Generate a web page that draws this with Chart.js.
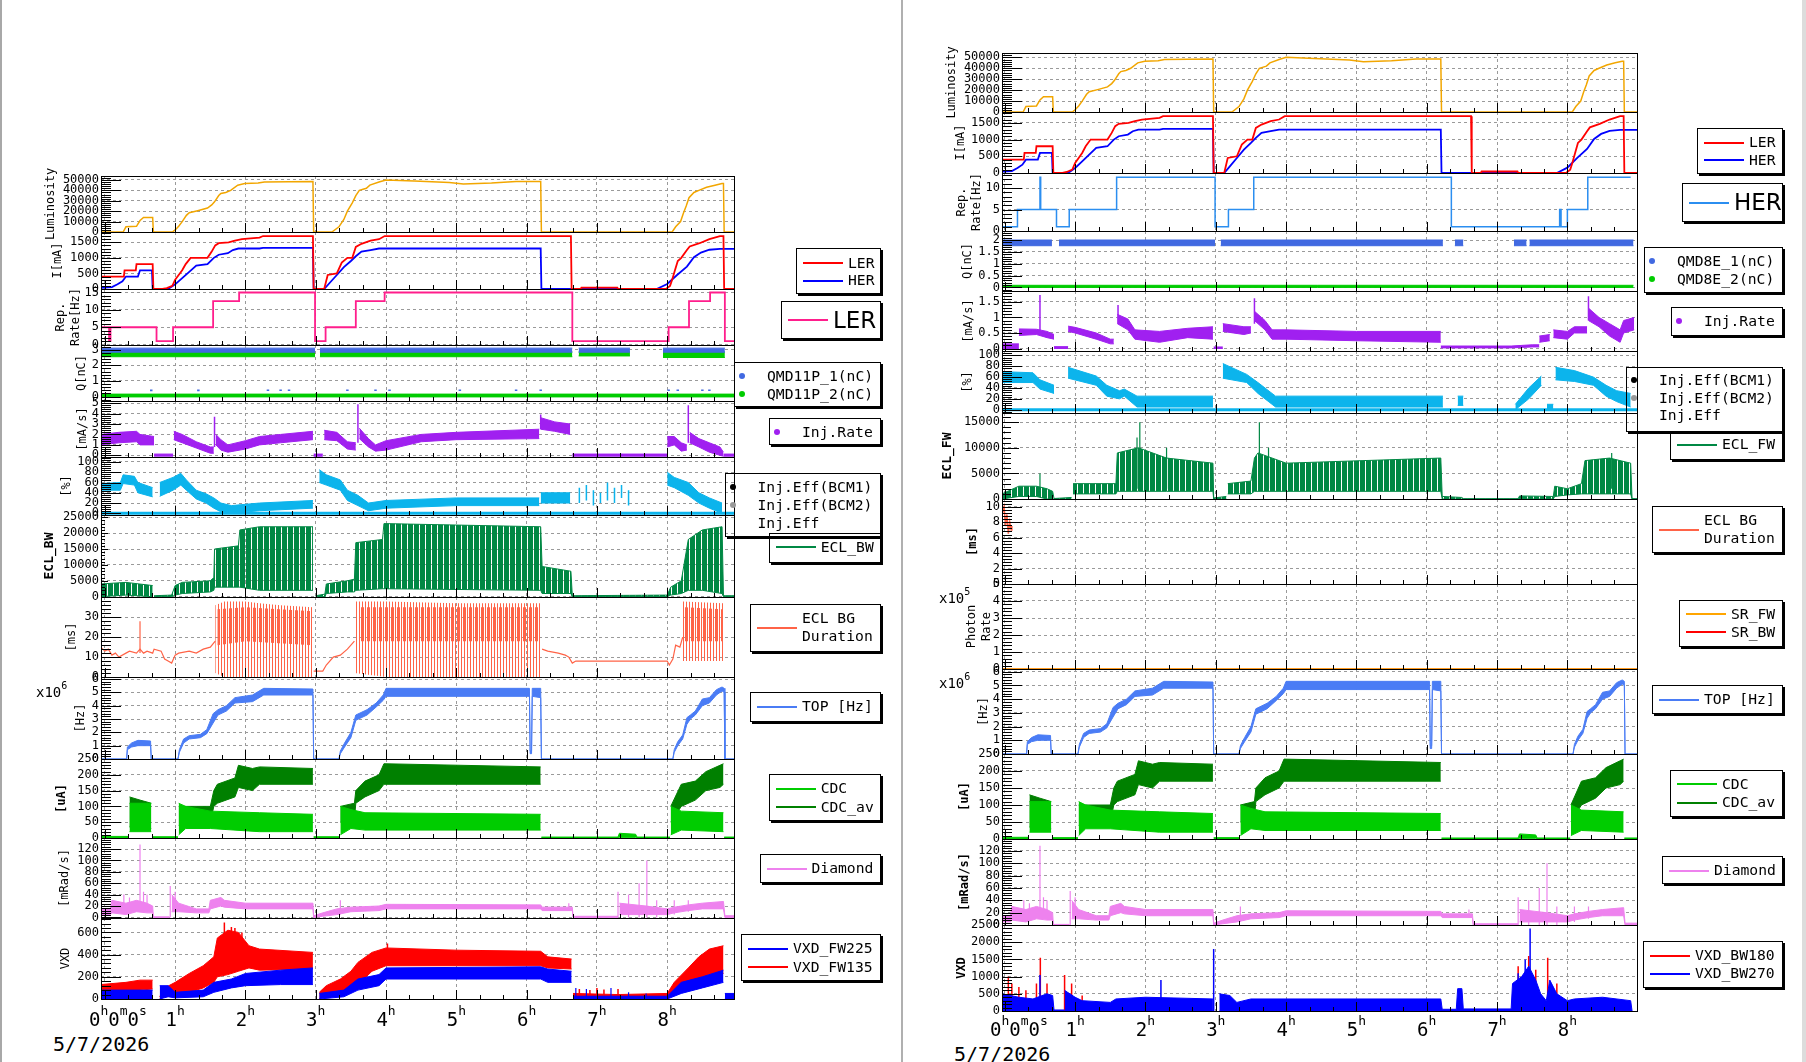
<!DOCTYPE html>
<html>
<head>
<meta charset="utf-8">
<title>Beam monitor</title>
<script src="https://cdn.jsdelivr.net/npm/chart.js"></script>
<style>
  body { margin: 0; width: 1806px; height: 1062px; position: relative; overflow: hidden; background: #fff;
         font-family: 'DejaVu Sans Mono', monospace; color: #000; }
  canvas { position: absolute; }
  .edge { position: absolute; top: 0; height: 1062px; }
  .leg { position: absolute; border: 1px solid #000; box-shadow: 2px 2px 0 #000; box-sizing: border-box; font-size: 14.7px; }
  .leg .ls { position: absolute; height: 2px; width: 40px; }
  .leg .dot { position: absolute; width: 6px; height: 6px; border-radius: 50%; }
  .leg .tx { position: absolute; line-height: 1; white-space: pre; transform: translateY(-50%); }
  .leg .big { font-family: 'DejaVu Sans', sans-serif; font-size: 23px; }
  .hl { position: absolute; font-size: 19px; line-height: 1; white-space: nowrap; }
  .hl sup { font-size: 13px; position: relative; top: -11px; vertical-align: baseline; }
  .date { position: absolute; font-size: 20px; line-height: 1; }
  .mult { position: absolute; font-size: 14px; line-height: 1; }
  .mult sup { font-size: 10px; position: relative; top: -8px; vertical-align: baseline; }
</style>
</head>
<body>
<div class="edge" style="left:0;width:2px;background:#a8a8a8"></div>
<div class="edge" style="left:901px;width:2px;background:#b0b0b0"></div>
<div class="edge" style="left:1802px;width:4px;background:#dcdcdc"></div>
<script>
// ---- time axis (hours) ----
const hourTicks = [0, 1, 2, 3, 4, 5, 6, 7, 8];
const hourLabels = ['1', '2', '3', '4', '5', '6', '7', '8'];

// ---- shared machine data: [hour, value] ----
const lumiPts = [[-0.06,0],[0.26,0],[0.3,5000],[0.45,5500],[0.5,11000],[0.55,14000],[0.68,14000],[0.69,0],[0.96,0],[1.0,2000],[1.05,5500],[1.1,10000],[1.16,16000],[1.2,18500],[1.32,20500],[1.46,23000],[1.52,26000],[1.56,29000],[1.62,35000],[1.65,37000],[1.72,38000],[1.79,40000],[1.89,45000],[1.99,46500],[2.18,47000],[2.27,48000],[2.96,48500],[2.97,0],[3.23,0],[3.33,5000],[3.4,12000],[3.45,20000],[3.52,28000],[3.57,35000],[3.62,40000],[3.72,42000],[3.77,45000],[3.9,48000],[4.0,50000],[4.4,49000],[4.9,47500],[5.1,46000],[5.5,47000],[5.85,48500],[6.2,48500],[6.21,0],[8.07,0],[8.12,5000],[8.19,10000],[8.23,18000],[8.27,25000],[8.31,33000],[8.38,38000],[8.45,40000],[8.56,43000],[8.68,45000],[8.78,46500],[8.8,46500],[8.81,0],[9.0,0]];
const lerPts = [[-0.06,400],[0.27,400],[0.28,600],[0.44,600],[0.45,800],[0.68,800],[0.69,0],[0.82,0],[0.88,30],[0.96,100],[1.0,300],[1.05,450],[1.1,600],[1.15,800],[1.22,1000],[1.46,1000],[1.52,1200],[1.57,1400],[1.62,1470],[1.76,1500],[1.85,1550],[1.95,1600],[2.2,1650],[2.25,1700],[2.96,1700],[2.97,0],[3.12,0],[3.17,450],[3.3,500],[3.37,850],[3.45,1000],[3.52,1000],[3.57,1350],[3.65,1450],[3.78,1550],[3.9,1600],[3.98,1700],[6.63,1700],[6.64,0],[6.77,0],[6.78,45],[7.29,45],[7.3,0],[7.98,0],[8.04,100],[8.07,300],[8.11,600],[8.15,900],[8.2,1000],[8.28,1250],[8.32,1365],[8.46,1470],[8.6,1600],[8.75,1700],[8.8,1700],[8.81,0],[9.0,0]];
const herPts = [[-0.06,40],[0.1,60],[0.18,150],[0.25,250],[0.3,400],[0.47,400],[0.5,600],[0.67,600],[0.68,0],[0.9,0],[1.0,150],[1.1,350],[1.2,550],[1.3,750],[1.46,800],[1.55,1000],[1.62,1100],[1.75,1150],[1.82,1250],[1.9,1300],[2.2,1300],[2.25,1320],[2.96,1320],[2.97,0],[3.12,0],[3.2,200],[3.3,450],[3.4,700],[3.5,900],[3.57,1050],[3.65,1200],[3.78,1250],[3.9,1300],[6.2,1300],[6.21,0],[7.85,0],[8.0,160],[8.14,450],[8.28,720],[8.38,1020],[8.48,1170],[8.6,1260],[8.75,1290],[9.0,1290]];

// rep. rate steps: [hour, new value]
const repLer = [[-0.06,5],[0.06,1],[0.08,5],[0.735,1],[0.97,5],[1.54,12.5],[1.91,15],[2.99,1],[3.14,5],[3.57,12.5],[3.98,15],[6.65,1],[8.02,5],[8.31,12.5],[8.61,15],[8.82,1],[9.0,1]];
const repHer = [[-0.05,1],[0.18,5],[0.5,12.5],[0.51,5],[0.735,1],[0.916,5],[1.59,12.5],[2.99,1],[3.18,5],[3.54,12.5],[6.35,1],[7.89,5],[7.91,1],[8.0,5],[8.29,12.5],[8.9,12.5]];

// bunch charge bands: segments of [hour, low, high]
const qmd11p1 = [[[-0.06,2.84,3.1],[2.99,2.84,3.1]],[[3.06,2.84,3.1],[6.65,2.84,3.1]],[[6.74,2.84,3.1],[7.47,2.84,3.1]],[[7.94,2.84,3.1],[8.82,2.84,3.1]]];
const qmd11p2 = [[[-0.06,2.55,2.86],[2.99,2.55,2.86]],[[3.06,2.55,2.86],[6.65,2.55,2.86]],[[6.74,2.6,2.86],[7.47,2.6,2.86]],[[7.94,2.5,2.86],[8.82,2.5,2.86]],[[-0.06,-0.02,0.16],[9.0,-0.02,0.16]]];
const qmd11p1Low = [[0.66,0.34,0.45],[1.33,0.34,0.45],[2.32,0.36,0.45],[2.5,0.36,0.45],[2.62,0.36,0.45],[3.45,0.36,0.45],[3.85,0.36,0.45],[4.05,0.36,0.45],[5.05,0.36,0.45],[5.85,0.36,0.45],[6.2,0.36,0.45],[8.02,0.36,0.45],[8.15,0.36,0.45],[8.5,0.36,0.45],[8.6,0.36,0.45]];
const qmd8e1 = [[[-0.04,1.76,2.0],[0.67,1.76,2.0]],[[0.77,1.76,2.0],[2.99,1.76,2.0]],[[3.07,1.76,2.0],[6.23,1.76,2.0]],[[6.4,1.76,2.0],[6.52,1.76,2.0]],[[7.24,1.76,2.0],[7.42,1.76,2.0]],[[7.46,1.76,2.0],[8.94,1.76,2.0]]];
const qmd8e2 = [[[-0.04,0.0,0.09],[8.94,0.0,0.09]]];

// injection rate [hour, low, high]
const injRateL = [
  [[-0.06,1.0,2.0],[0.2,1.2,2.2],[0.45,1.3,2.3],[0.5,1.0,2.0],[0.7,1.0,1.8]],
  [[0.7,-0.08,0.12],[0.97,-0.08,0.12]],
  [[0.98,1.5,2.3],[1.1,1.2,2.0],[1.3,0.7,1.3],[1.5,0.2,0.8],[1.55,0.2,0.8]],
  [[1.58,1.0,2.0],[1.65,0.5,1.5],[1.75,0.3,1.0],[2.0,0.6,1.4],[2.2,1.0,1.8],[2.5,1.2,2.0],[2.96,1.5,2.3]],
  [[2.97,-0.08,0.12],[3.1,-0.08,0.12]],
  [[3.12,1.5,2.4],[3.3,1.4,2.2],[3.45,0.6,1.3],[3.57,0.5,1.2]],
  [[3.62,1.6,2.6],[3.75,0.8,1.6],[3.85,0.4,1.0],[4.0,0.5,1.4],[4.5,1.3,2.0],[5.0,1.5,2.2],[6.18,1.6,2.5]],
  [[6.2,2.5,3.6],[6.4,2.3,3.2],[6.62,2.0,3.0]],
  [[6.65,-0.08,0.12],[8.0,-0.08,0.12]],
  [[8.0,0.8,1.8],[8.1,1.0,1.8],[8.2,0.4,1.2],[8.28,0.5,1.0]],
  [[8.32,1.2,2.2],[8.45,0.8,1.6],[8.6,0.3,1.2],[8.75,0.0,0.8],[8.8,-0.08,0.3]],
  [[8.8,-0.08,0.12],[8.96,-0.08,0.12]]
];
const injRateLSpikes = [[1.56,0.8,3.7],[3.6,1.2,4.9],[8.3,1.2,4.8],[6.2,2.5,3.9]];
const injRateR = [
  [[-0.04,0.0,0.15],[0.2,0.0,0.15]],
  [[0.2,0.42,0.63],[0.45,0.45,0.62],[0.6,0.35,0.55],[0.7,0.3,0.45]],
  [[0.7,0.0,0.06],[0.9,0.0,0.06]],
  [[0.9,0.55,0.72],[1.0,0.5,0.68],[1.3,0.3,0.5],[1.5,0.15,0.3],[1.55,0.15,0.3]],
  [[1.6,0.8,1.1],[1.75,0.6,0.95],[1.85,0.3,0.6],[2.2,0.2,0.55],[2.6,0.35,0.65],[2.96,0.3,0.7]],
  [[2.97,0.0,0.05],[3.1,0.0,0.05]],
  [[3.1,0.55,0.8],[3.4,0.45,0.7],[3.5,0.5,0.7]],
  [[3.55,0.9,1.2],[3.7,0.6,0.9],[3.8,0.3,0.6],[4.0,0.3,0.6],[5.0,0.25,0.55],[6.2,0.2,0.55]],
  [[6.2,0.02,0.08],[7.2,0.02,0.08],[7.5,0.05,0.12],[7.6,0.05,0.12]],
  [[7.6,0.2,0.4],[7.75,0.25,0.45]],
  [[7.8,0.35,0.6],[8.0,0.3,0.55],[8.1,0.5,0.7],[8.28,0.5,0.7]],
  [[8.3,0.9,1.3],[8.45,0.7,1.0],[8.6,0.4,0.8],[8.75,0.2,0.6],[8.8,0.5,0.9],[8.95,0.6,1.0]]
];
const injRateRSpikes = [[0.5,0.5,1.72],[1.61,0.8,1.4],[3.55,0.8,1.62],[8.3,0.9,1.68]];

// injection efficiency [hour, low, high] in %
const effBase = [[-0.06,0],[9.0,0]];
const injEffL = [
  [[-0.06,45,58],[0.22,45,60],[0.26,58,75],[0.42,55,72],[0.47,40,60],[0.68,32,50]],
  [[0.78,33,60],[0.97,45,70],[1.08,55,78],[1.16,45,65],[1.3,28,45],[1.44,20,38],[1.55,10,30],[1.65,3,20],[1.8,0,15],[2.2,5,20],[2.96,10,25]],
  [[3.05,60,85],[3.15,55,75],[3.35,45,65],[3.45,25,45],[3.6,15,35],[3.75,5,20],[4.0,10,25],[5.0,15,30],[6.18,15,30]],
  [[6.2,20,40],[6.62,20,40]],
  [[8.0,55,80],[8.1,50,70],[8.3,35,60],[8.45,20,40],[8.6,10,30],[8.78,0,20]]
];
const injEffLSpikes = [[6.75,20,50],[6.85,25,55],[6.95,15,45],[7.05,20,40],[7.15,25,60],[7.25,20,50],[7.35,30,55],[7.45,15,45]];
const injEffR = [
  [[-0.04,50,70],[0.4,50,68],[0.5,38,55],[0.7,30,45]],
  [[0.9,58,78],[1.3,45,62],[1.45,25,45],[1.63,20,35],[1.7,25,38],[1.88,5,25],[2.96,5,25]],
  [[3.1,58,85],[3.44,50,65],[3.6,30,50],[3.85,5,25],[6.23,5,25]],
  [[6.44,8,25],[6.52,8,25]],
  [[7.26,0,10],[7.45,20,40],[7.63,45,62]],
  [[7.71,0,10],[7.8,0,10]],
  [[7.83,55,78],[8.1,52,72],[8.37,45,60],[8.55,25,45],[8.7,15,35],[8.9,5,30]]
];

// ECL rates [hour, low, high]
const eclBw = [
  [[-0.06,0,4000],[0.3,500,4500],[0.68,0,3500]],
  [[0.7,0,300],[0.95,0,500],[1.0,500,3500],[1.1,1000,4500],[1.5,1500,5000],[1.55,2000,6000],[1.56,3000,15000],[1.9,3000,16000],[1.92,3000,21000],[2.2,2000,22000],[2.96,2000,22000]],
  [[3.0,0,300],[3.13,0,800],[3.15,1000,4000],[3.45,1500,5000],[3.55,1500,5500],[3.57,2000,17000],[3.95,2500,18000],[3.97,2500,23000],[6.2,2000,22000],[6.22,1000,9500],[6.63,1000,8000],[6.65,0,300],[8.0,0,500],[8.05,500,3000],[8.2,1000,5000],[8.3,2000,18000],[8.5,2000,21000],[8.78,1000,22000],[8.8,0,300],[9.0,0,300]]
];
const eclFw = [
  [[-0.04,0,1000],[0.2,500,2500],[0.45,500,2500],[0.6,0,2000],[0.68,0,1500],[0.7,0,100],[0.95,0,300]],
  [[0.97,1000,3000],[1.58,1000,3000],[1.6,1500,9000],[1.9,1500,10000],[2.3,1500,8000],[2.96,1500,7000],[2.97,0,200],[3.15,0,500]],
  [[3.17,1000,3000],[3.5,1000,3500],[3.55,1500,8000],[3.6,1500,9000],[4.0,1500,7000],[6.2,1500,8000],[6.22,0,500],[6.5,0,300],[6.52,0,50],[7.3,0,50],[7.32,0,600],[7.8,0,500],[7.82,500,2500],[8.0,800,2000],[8.2,1000,3000],[8.25,1000,7500],[8.6,1000,8000],[8.9,1000,7000],[8.92,0,50],[8.99,0,50]]
];
const eclFwSpikes = [[0.5,1000,5000],[1.88,2000,12000],[1.92,2000,15000],[2.3,2000,10000],[3.62,2000,15000],[3.75,2000,10000],[8.63,2000,9000]];

// ECL background duration [ms]
const eclBgLine = [
  [[-0.06,15],[0.0,13],[0.05,14],[0.1,11],[0.15,12],[0.2,10],[0.3,12],[0.35,13],[0.45,12],[0.5,14],[0.55,12],[0.6,13],[0.68,12],[0.7,14],[0.8,13],[0.85,9],[0.9,8],[0.95,7],[1.0,11],[1.05,12],[1.2,13],[1.3,12],[1.4,14],[1.5,15],[1.57,18]],
  [[2.97,3],[3.1,3],[3.15,6],[3.25,10],[3.35,11],[3.45,14],[3.55,18]],
  [[6.22,14],[6.3,13],[6.45,12],[6.55,11],[6.6,10],[6.65,7],[6.7,8],[7.0,8],[7.5,8],[8.0,8],[8.03,6],[8.08,9],[8.12,16],[8.18,15],[8.22,20]]
];
const eclBgBand = [
  [[1.57,2,36],[1.7,0,38],[2.0,0,38],[2.2,0,37],[2.5,0,36],[2.96,0,35]],
  [[3.55,2,38],[4.0,0,38],[5.0,0,37],[6.2,0,37]],
  [[8.22,8,38],[8.8,8,37]]
];
const eclBgCore = [
  [[1.6,16,34],[2.0,18,35],[2.96,16,33]],
  [[3.6,18,35],[6.2,18,35]],
  [[8.25,18,35],[8.78,18,34]]
];
const eclBgSpikes = [[0.5,12,28]];
const eclBgR = [[-0.04,9],[-0.01,10],[0.01,7.5],[0.03,9],[0.05,6.5],[0.07,8],[0.09,7],[0.1,7.5]];
const srFw = [[-0.04,0],[8.99,0]];
const srBw = [[-0.04,0],[8.99,0]];

// TOP rate [x1e6 Hz]
const topHz = [[[-0.06,0,0],[0.31,0,0],[0.32,0.7,0.9],[0.38,0.9,1.2],[0.47,1.0,1.4],[0.65,1.0,1.35],[0.66,0,0],[1.04,0,0],[1.06,0.5,0.7],[1.12,1.2,1.5],[1.2,1.5,1.75],[1.36,1.6,1.85],[1.45,1.9,2.2],[1.54,2.7,3.4],[1.61,3.3,3.7],[1.73,3.6,4.0],[1.85,4.2,4.6],[2.1,4.3,4.8],[2.26,4.8,5.3],[2.96,4.8,5.25],[2.97,0,0],[3.33,0,0],[3.35,0.4,0.6],[3.41,0.9,1.2],[3.5,1.6,2.0],[3.57,2.9,3.3],[3.73,3.3,3.7],[3.86,3.9,4.2],[3.96,4.4,4.8],[4.0,4.7,5.3],[6.04,4.7,5.3],[6.05,0.4,0.6],[6.07,0.4,0.6],[6.08,4.7,5.3],[6.2,4.6,5.3],[6.21,0,0],[8.08,0,0],[8.1,0.5,0.7],[8.15,1.0,1.3],[8.22,1.5,1.8],[8.28,2.6,3.1],[8.33,3.0,3.3],[8.4,3.3,3.6],[8.5,4.0,4.5],[8.6,4.2,4.6],[8.7,4.8,5.2],[8.78,5.1,5.4],[8.81,5.0,5.3],[8.82,0,0],[9.0,0,0]]];

// CDC current [uA]
const cdcDark = [
  [[0.35,35,130],[0.5,40,120],[0.66,30,110]],
  [[1.05,40,100],[1.5,50,100],[1.55,100,150],[1.6,110,170],[1.85,130,190],[1.9,160,230],[2.1,150,220],[2.2,170,225],[2.96,170,220]],
  [[3.35,50,100],[3.55,60,110],[3.57,110,150],[3.7,130,180],[3.9,150,200],[3.97,170,235],[6.2,170,225]],
  [[8.05,50,100],[8.2,100,170],[8.4,120,180],[8.55,150,210],[8.75,160,230],[8.8,170,235]]
];
const cdcLight = [
  [[-0.06,0,5],[0.34,0,5]],
  [[0.35,20,110],[0.66,20,110]],
  [[0.67,0,4],[1.04,0,4]],
  [[1.05,10,110],[1.15,30,100],[1.5,30,85],[2.2,20,80],[2.96,20,75]],
  [[2.97,0,4],[3.34,0,4]],
  [[3.35,10,100],[3.5,30,90],[3.7,25,80],[6.2,25,75]],
  [[6.21,0,3],[7.3,0,3],[7.32,2,15],[7.55,2,12],[7.57,0,3],[8.04,0,3]],
  [[8.05,10,100],[8.2,25,85],[8.8,20,80]],
  [[8.81,0,3],[9.0,0,3]]
];

// diamond dose [mRad/s]
const diamond = [
  [[-0.06,5,15],[0.08,5,15],[0.1,8,30],[0.3,5,25],[0.45,10,30],[0.6,8,25],[0.68,8,20],[0.69,0,1],[0.92,0,1]],
  [[0.95,10,40],[1.05,10,25],[1.3,8,15],[1.48,8,15],[1.5,15,30],[1.65,20,35],[1.7,18,30],[2.0,15,25],[2.96,15,25],[2.97,0,3],[3.1,2,8],[3.3,5,15],[3.5,10,18],[3.9,12,20],[4.0,15,23],[6.2,15,22],[6.22,12,18],[6.65,12,18],[6.66,0,2],[7.3,0,2]],
  [[7.32,5,25],[7.7,5,20],[8.0,5,15],[8.1,8,18],[8.3,12,22],[8.5,15,25],[8.8,15,28],[8.82,0,3],[9.0,0,3]]
];
const diamondSpikes = [[0.27,10,40],[0.35,10,35],[0.5,15,128],[0.55,10,45],[0.6,10,40],[0.93,0,55],[1.0,10,45],[3.35,5,30],[6.6,12,25],[7.3,0,45],[7.45,0,40],[7.6,0,60],[7.71,0,100],[7.85,0,30],[8.1,5,30],[8.3,10,30]];

// VXD dose
const vxdFw135 = [
  [[-0.06,60,130],[0.3,70,150],[0.5,80,170],[0.68,90,170]],
  [[0.78,0,20],[0.85,20,100],[1.0,30,150],[1.2,60,230],[1.4,100,300],[1.55,150,380],[1.6,200,550],[1.75,220,620],[1.9,250,600],[2.05,280,480],[2.2,260,450],[2.96,270,420]],
  [[3.05,0,60],[3.15,30,120],[3.35,60,180],[3.5,100,250],[3.6,130,330],[3.8,250,420],[4.0,300,460],[5.0,300,440],[6.2,300,430],[6.3,280,380],[6.64,270,360]],
  [[6.66,0,50],[7.3,0,40],[8.0,0,50],[8.1,50,150],[8.3,120,280],[8.45,180,380],[8.6,220,450],[8.8,230,480]]
];
const vxdFw135Spikes = [[1.7,400,690],[1.8,400,650],[1.85,400,640],[1.95,400,600],[4.02,350,500],[6.75,0,90],[6.9,0,80],[7.0,0,100],[7.1,0,85],[7.3,0,90]];
const vxdFw225 = [
  [[-0.06,0,80],[0.68,0,80]],
  [[0.78,0,120],[0.9,20,120],[1.0,10,60],[1.4,20,80],[1.55,60,150],[1.8,100,180],[2.0,120,230],[2.5,130,260],[2.96,130,280]],
  [[3.05,0,50],[3.4,20,80],[3.6,80,180],[3.9,120,220],[4.0,180,280],[6.2,180,290],[6.3,150,270],[6.64,150,250]],
  [[6.66,0,25],[8.0,0,25],[8.2,50,150],[8.5,100,200],[8.8,150,260]],
  [[8.82,0,50],[9.0,0,50]]
];
const vxdFw225Spikes = [[6.7,0,100],[6.85,0,90],[7.2,0,100],[7.45,0,60],[7.7,0,50]];
const vxdBw270 = [
  [[-0.04,0,500],[0.2,0,400],[0.4,0,350],[0.6,0,500],[0.68,0,450],[0.7,0,30],[0.85,0,30]],
  [[0.85,0,600],[1.0,0,400],[1.1,0,300],[1.5,0,250],[1.58,0,350],[2.0,0,400],[2.96,0,350]],
  [[3.05,0,500],[3.2,0,450],[3.3,0,250],[3.5,0,350],[6.2,0,350],[6.22,0,50],[6.42,0,50],[6.44,0,650],[6.5,0,650],[6.52,0,60],[7.2,0,60],[7.22,0,800],[7.35,0,1000],[7.45,0,1300],[7.55,0,900],[7.62,0,500],[7.7,0,300],[7.75,0,900],[7.85,0,500],[8.0,0,300],[8.1,0,350],[8.5,0,400],[8.9,0,300],[8.92,0,0]]
];
const vxdBw270Spikes = [[0.5,0,1050],[2.22,0,900],[2.97,0,1800],[7.3,0,1100],[7.47,0,2400],[7.4,0,1500]];
const vxdBw180Spikes = [[0.05,0,1000],[0.1,0,800],[0.2,0,700],[0.3,0,600],[0.45,0,800],[0.505,0,1550],[0.6,0,800],[0.85,0,1050],[0.95,0,800],[1.1,0,450],[7.3,0,1300],[7.38,0,1000],[7.45,0,1600],[7.55,0,1200],[7.72,0,1550],[7.85,0,800],[8.5,0,150]];

// ---- y tick values ----
const lumiTicks = [0, 10000, 20000, 30000, 40000, 50000];
const curTicks = [0, 500, 1000, 1500];
const eclBwTicks = [0, 5000, 10000, 15000, 20000, 25000];
const cdcTicks = [0, 50, 100, 150, 200, 250];
const diaTicks = [0, 20, 40, 60, 80, 100, 120];
const effTicks = [0, 20, 40, 60, 80, 100];

// ---- colours ----
const C = {
  lumi: '#f2a600', ler: '#ff0000', her: '#0000ff', repL: '#ff1e8c', repH: '#2b8ef0',
  q1: '#4169e1', q2: '#00cc00', rate: '#a020f0', eff: '#0cb4ec', ecl: '#008844',
  bg: '#ff6347', top: '#4a7cf5', cdc: '#00cc00', cdcAv: '#008000', dia: '#ee82ee', sr: '#ffa500'
};
const MONO = "'DejaVu Sans Mono', monospace";

// vertical hatch used to mimic dense spiky readings
function stripes(color, on, off) {
  const c = document.createElement('canvas');
  c.width = on + off; c.height = 4;
  const g = c.getContext('2d');
  g.fillStyle = color;
  g.fillRect(0, 0, on, 4);
  return g.createPattern(c, 'repeat');
}

// ---- dataset helpers ----
function line(pts, color, w) {
  return [{ data: pts.map(p => ({ x: p[0], y: p[1] })), borderColor: color, borderWidth: w || 1.3 }];
}
function lines(segs, color, w) {
  return segs.flatMap(s => line(s, color, w));
}
function steps(pts, color, w) {
  const d = [];
  pts.forEach((p, i) => {
    if (i) d.push({ x: p[0], y: pts[i - 1][1] });
    d.push({ x: p[0], y: p[1] });
  });
  return [{ data: d, borderColor: color, borderWidth: w }];
}
function band(segs, color, fillColor, bw) {
  const w = bw === undefined ? 1 : bw;
  const out = [];
  segs.forEach(s => {
    out.push({ data: s.map(p => ({ x: p[0], y: p[1] })), borderColor: color, borderWidth: w });
    out.push({ data: s.map(p => ({ x: p[0], y: p[2] })), borderColor: color, borderWidth: w,
               fill: '-1', backgroundColor: fillColor || color });
  });
  return out;
}
function spikes(list, color, w) {
  const d = [];
  list.forEach(p => { d.push({ x: p[0], y: p[1] }, { x: p[0], y: p[2] }, { x: p[0], y: null }); });
  return [{ data: d, borderColor: color, borderWidth: w || 1.2 }];
}

// ROOT-like frame with inward ticks
const rootFrame = {
  id: 'rootFrame',
  afterDatasetsDraw(chart, args, o) {
    const { ctx, chartArea: a } = chart;
    const xs = chart.scales.x, ys = chart.scales.y;
    ctx.save();
    ctx.strokeStyle = '#000';
    ctx.lineWidth = 1;
    ctx.setLineDash([]);
    ctx.beginPath();
    for (let k = Math.ceil(xs.min * 3); k / 3 <= xs.max; k++) {
      const px = Math.round(xs.getPixelForValue(k / 3)) + 0.5;
      const len = k % 3 === 0 ? 9 : 4;
      ctx.moveTo(px, a.bottom); ctx.lineTo(px, a.bottom - len);
    }
    const st = o.step / 5;
    for (let k = Math.ceil(ys.min / st - 1e-9); k * st <= ys.max + 1e-9; k++) {
      const py = Math.round(ys.getPixelForValue(k * st)) + 0.5;
      const len = k % 5 === 0 ? o.maj : o.mnr;
      ctx.moveTo(a.left, py); ctx.lineTo(a.left + len, py);
    }
    ctx.stroke();
    ctx.strokeRect(Math.round(a.left) + 0.5, Math.round(a.top) + 0.5,
                   Math.round(a.right - a.left), Math.round(a.bottom - a.top));
    ctx.restore();
  }
};

const L = { left: 101, right: 734, xMin: -0.055, xMax: 8.95 };
const R = { left: 1002, right: 1637, xMin: -0.04, xMax: 8.99 };

const eclHatch = stripes(C.ecl, 5, 1);
const bgHatch = stripes(C.bg, 1, 2);
const bgCoreHatch = stripes(C.bg, 1, 1);

const panels = [
  // left column
  { col: L, top: 176, bot: 232, min: 0, max: 53800, ticks: lumiTicks, title: 'Luminosity', tx: 51, ds: line(lumiPts, C.lumi, 1.5) },
  { col: L, top: 232, bot: 289, min: 0, max: 1830, ticks: curTicks, title: 'I[mA]', tx: 58, ds: [...line(lerPts, C.ler, 1.8), ...line(herPts, C.her, 1.8)] },
  { col: L, top: 289, bot: 345, min: -0.1, max: 16, ticks: [0, 5, 10, 15], title: ['Rep.', 'Rate[Hz]'], tx: 61, ds: steps(repLer, C.repL, 1.8) },
  { col: L, top: 345, bot: 401, min: -0.28, max: 3.3, ticks: [0, 1, 2, 3], title: 'Q[nC]', tx: 82,
    ds: [...band(qmd11p1, C.q1), ...band(qmd11p2, C.q2), ...spikes(qmd11p1Low, C.q1, 2.5)] },
  { col: L, top: 401, bot: 457, min: -0.16, max: 5.2, ticks: [0, 1, 2, 3, 4, 5], title: '[mA/s]', tx: 83,
    ds: [...band(injRateL, C.rate), ...spikes(injRateLSpikes, C.rate, 1.5)] },
  { col: L, top: 457, bot: 515, min: -3.3, max: 109.7, ticks: effTicks, title: '[%]', tx: 67,
    ds: [...line(effBase, C.eff, 3), ...band(injEffL, C.eff), ...spikes(injEffLSpikes, C.eff, 1.5)] },
  { col: L, top: 515, bot: 597, min: -100, max: 25700, ticks: eclBwTicks, title: 'ECL_BW', bold: true, ts: 13, tx: 50, maj: 7, mnr: 4,
    ds: band(eclBw, C.ecl, eclHatch) },
  { col: L, top: 597, bot: 677, min: 0, max: 40.2, ticks: [0, 10, 20, 30], title: '[ms]', tx: 72,
    ds: [...lines(eclBgLine, C.bg, 1.2), ...band(eclBgCore, C.bg, bgCoreHatch, 0), ...band(eclBgBand, C.bg, bgHatch, 0), ...spikes(eclBgSpikes, C.bg, 1.2)] },
  { col: L, top: 677, bot: 759, min: 0, max: 6.15, ticks: [0, 1, 2, 3, 4, 5, 6], title: '[Hz]', tx: 81, ds: band(topHz, C.top) },
  { col: L, top: 759, bot: 838, min: 0, max: 250, ticks: cdcTicks, title: '[uA]', bold: true, tx: 62,
    ds: [...band(cdcLight, C.cdc), ...band(cdcDark, C.cdcAv)] },
  { col: L, top: 838, bot: 918, min: -1, max: 139.3, ticks: diaTicks, title: '[mRad/s]', tx: 65,
    ds: [...band(diamond, C.dia), ...spikes(diamondSpikes, C.dia, 1.2)] },
  { col: L, top: 918, bot: 999, min: 0, max: 730, ticks: [0, 200, 400, 600], title: 'VXD', tx: 66,
    ds: [...band(vxdFw225, C.her), ...spikes(vxdFw225Spikes, C.her, 1.2), ...band(vxdFw135, C.ler), ...spikes(vxdFw135Spikes, C.ler, 1.5)] },
  // right column
  { col: R, top: 53, bot: 112, min: 0, max: 54000, ticks: lumiTicks, title: 'Luminosity', tx: 952, ds: line(lumiPts, C.lumi, 1.5) },
  { col: R, top: 112, bot: 173, min: 0, max: 1825, ticks: curTicks, title: 'I[mA]', tx: 961, ds: [...line(lerPts, C.ler, 1.8), ...line(herPts, C.her, 1.8)] },
  { col: R, top: 173, bot: 231, min: 0, max: 13.5, ticks: [0, 5, 10], title: ['Rep.', 'Rate[Hz]'], tx: 962, ds: steps(repHer, C.repH, 1.5) },
  { col: R, top: 231, bot: 291, min: -0.15, max: 2.38, ticks: [0, 0.5, 1, 1.5, 2], title: 'Q[nC]', tx: 968,
    ds: [...band(qmd8e1, C.q1), ...band(qmd8e2, C.q2)] },
  { col: R, top: 291, bot: 351, min: -0.08, max: 1.85, ticks: [0, 0.5, 1, 1.5], title: '[mA/s]', tx: 969,
    ds: [...band(injRateR, C.rate), ...spikes(injRateRSpikes, C.rate, 1.5)] },
  { col: R, top: 351, bot: 413, min: -6, max: 108, ticks: effTicks, title: '[%]', tx: 968,
    ds: [...line(effBase, C.eff, 3), ...band(injEffR, C.eff)] },
  { col: R, top: 413, bot: 499, min: 0, max: 16800, ticks: [0, 5000, 10000, 15000], title: 'ECL_FW', bold: true, ts: 13, tx: 948, maj: 17, mnr: 9,
    ds: [...band(eclFw, C.ecl, eclHatch), ...spikes(eclFwSpikes, C.ecl, 1.2)] },
  { col: R, top: 499, bot: 584, min: 0, max: 11, ticks: [0, 2, 4, 6, 8, 10], title: '[ms]', bold: true, tx: 973, ds: line(eclBgR, C.bg, 1.5) },
  { col: R, top: 584, bot: 669, min: 0, max: 5, ticks: [0, 1, 2, 3, 4, 5], title: ['Photon', 'Rate'], tx: 972,
    ds: [...line(srFw, C.sr, 1.5), ...line(srBw, C.ler, 1)] },
  { col: R, top: 669, bot: 754, min: 0, max: 6.2, ticks: [0, 1, 2, 3, 4, 5, 6], title: '[Hz]', tx: 984, ds: band(topHz, C.top) },
  { col: R, top: 754, bot: 839, min: 0, max: 250, ticks: cdcTicks, title: '[uA]', bold: true, tx: 965,
    ds: [...band(cdcLight, C.cdc), ...band(cdcDark, C.cdcAv)] },
  { col: R, top: 839, bot: 925, min: 0, max: 139, ticks: diaTicks, title: '[mRad/s]', bold: true, tx: 965,
    ds: [...band(diamond, C.dia), ...spikes(diamondSpikes, C.dia, 1.2)] },
  { col: R, top: 925, bot: 1011, min: 0, max: 2500, ticks: [0, 500, 1000, 1500, 2000, 2500], title: 'VXD', bold: true, tx: 962,
    ds: [...band(vxdBw270, C.her), ...spikes(vxdBw270Spikes, C.her, 1.5), ...spikes(vxdBw180Spikes, C.ler, 1.5)] }
];

function makePanel(p) {
  const c = p.col;
  const ts = p.ts || 12;
  const cl = Math.round(p.tx - ts * 0.6);
  const W = c.right + 10 - cl, H = p.bot - p.top + 24;
  const cv = document.createElement('canvas');
  cv.width = W; cv.height = H;
  cv.style.left = cl + 'px'; cv.style.top = (p.top - 12) + 'px';
  cv.style.width = W + 'px'; cv.style.height = H + 'px';
  document.body.appendChild(cv);
  new Chart(cv, {
    type: 'line',
    data: { datasets: p.ds },
    options: {
      responsive: false, animation: false, devicePixelRatio: 1,
      layout: { padding: { left: 0, right: 10, top: 12, bottom: 12 } },
      elements: { point: { radius: 0 }, line: { tension: 0 } },
      plugins: {
        legend: { display: false }, tooltip: { enabled: false },
        rootFrame: { step: p.ticks[1] - p.ticks[0], maj: p.maj || 20, mnr: p.mnr || 10 }
      },
      scales: {
        x: {
          type: 'linear', min: c.xMin, max: c.xMax,
          ticks: { display: false },
          grid: { color: '#9a9a9a', drawTicks: false },
          border: { display: false, dash: [3, 3] },
          afterBuildTicks: s => { s.ticks = hourTicks.map(v => ({ value: v })); },
          afterFit: s => { s.height = 0; s.paddingLeft = 0; s.paddingRight = 0; }
        },
        y: {
          type: 'linear', min: p.min, max: p.max,
          ticks: { autoSkip: false, padding: 2, color: '#000', font: { family: MONO, size: 12 }, callback: v => String(v) },
          grid: { color: '#9a9a9a', drawTicks: false },
          border: { display: false, dash: [3, 3] },
          title: { display: true, text: p.title, color: '#000', padding: 0,
                   font: { family: MONO, size: ts, weight: p.bold ? 'bold' : 'normal' } },
          afterBuildTicks: s => { s.ticks = p.ticks.map(v => ({ value: v })); },
          afterFit: s => { s.width = c.left - cl; s.paddingTop = 0; s.paddingBottom = 0; }
        }
      }
    },
    plugins: [rootFrame]
  });
}
panels.forEach(makePanel);

// ---- legends ----
const legends = [
  { x: 796, y: 248, w: 85, h: 46, rows: [{ line: C.ler, y: 14.5, t: 'LER' }, { line: C.her, y: 32, t: 'HER' }] },
  { x: 781, y: 301, w: 100, h: 38, big: true, rows: [{ line: C.repL, y: 18.5, t: 'LER' }] },
  { x: 734, y: 362, w: 147, h: 45, rows: [{ dot: C.q1, y: 13.6, t: 'QMD11P_1(nC)' }, { dot: C.q2, y: 31.6, t: 'QMD11P_2(nC)' }] },
  { x: 769, y: 418, w: 112, h: 27, rows: [{ dot: C.rate, y: 13.5, t: 'Inj.Rate' }] },
  { x: 768.7, y: 533, w: 112.3, h: 30, rows: [{ line: C.ecl, y: 13.5, t: 'ECL_BW' }] },
  { x: 724.5, y: 473, w: 156.5, h: 64, rows: [{ dot: '#000', y: 14.3, t: 'Inj.Eff(BCM1)' }, { dot: '#999', y: 32.3, t: 'Inj.Eff(BCM2)' }, { y: 50, t: 'Inj.Eff' }] },
  { x: 750, y: 604, w: 131, h: 48, rows: [{ y: 14.3, t: 'ECL BG' }, { line: C.bg, y: 23.7 }, { y: 32.3, t: 'Duration' }] },
  { x: 750, y: 692, w: 131, h: 30, rows: [{ line: C.top, y: 14, t: 'TOP [Hz]' }] },
  { x: 768.7, y: 774, w: 112.3, h: 47, rows: [{ line: C.cdc, y: 14.3, t: 'CDC' }, { line: C.cdcAv, y: 32.7, t: 'CDC_av' }] },
  { x: 759.5, y: 854, w: 121.5, h: 29, rows: [{ line: C.dia, y: 14.3, t: 'Diamond' }] },
  { x: 741, y: 934, w: 140, h: 47, rows: [{ line: C.her, y: 14.3, t: 'VXD_FW225' }, { line: C.ler, y: 32.7, t: 'VXD_FW135' }] },

  { x: 1697, y: 128, w: 86, h: 46, rows: [{ line: C.ler, y: 14, t: 'LER' }, { line: C.her, y: 31.7, t: 'HER' }] },
  { x: 1682, y: 183, w: 101, h: 39, big: true, rows: [{ line: C.repH, y: 19, t: 'HER' }] },
  { x: 1644, y: 247, w: 139, h: 46, rows: [{ dot: C.q1, y: 14.4, t: 'QMD8E_1(nC)' }, { dot: C.q2, y: 32, t: 'QMD8E_2(nC)' }] },
  { x: 1671, y: 307, w: 112, h: 29, rows: [{ dot: C.rate, y: 13.7, t: 'Inj.Rate' }] },
  { x: 1670, y: 432, w: 113, h: 28, rows: [{ line: C.ecl, y: 12, t: 'ECL_FW' }] },
  { x: 1626, y: 367, w: 157, h: 65, rows: [{ dot: '#000', y: 13.3, t: 'Inj.Eff(BCM1)' }, { dot: '#999', y: 30.6, t: 'Inj.Eff(BCM2)' }, { y: 48.3, t: 'Inj.Eff' }] },
  { x: 1652, y: 506, w: 131, h: 47, rows: [{ y: 13.7, t: 'ECL BG' }, { line: C.bg, y: 23 }, { y: 32, t: 'Duration' }] },
  { x: 1679, y: 600, w: 104, h: 47, rows: [{ line: C.sr, y: 13.7, t: 'SR_FW' }, { line: C.ler, y: 31.7, t: 'SR_BW' }] },
  { x: 1652, y: 685, w: 131, h: 29, rows: [{ line: C.top, y: 14, t: 'TOP [Hz]' }] },
  { x: 1670, y: 770, w: 113, h: 47, rows: [{ line: C.cdc, y: 13.7, t: 'CDC' }, { line: C.cdcAv, y: 32, t: 'CDC_av' }] },
  { x: 1662, y: 856, w: 121, h: 28, rows: [{ line: C.dia, y: 14.3, t: 'Diamond' }] },
  { x: 1643, y: 941, w: 140, h: 47, rows: [{ line: C.ler, y: 14, t: 'VXD_BW180' }, { line: C.her, y: 32.3, t: 'VXD_BW270' }] }
];

legends.forEach(b => {
  const d = document.createElement('div');
  d.className = 'leg';
  Object.assign(d.style, { left: b.x + 'px', top: b.y + 'px', width: b.w + 'px', height: b.h + 'px' });
  const hasDot = b.rows.some(r => r.dot);
  b.rows.forEach(r => {
    if (r.line) {
      const l = document.createElement('div');
      l.className = 'ls';
      Object.assign(l.style, { left: '6px', top: Math.round(r.y - 1.5) + 'px', background: r.line });
      d.appendChild(l);
    }
    if (r.dot) {
      const o = document.createElement('div');
      o.className = 'dot';
      Object.assign(o.style, { left: '4px', top: (r.y - 4) + 'px', background: r.dot });
      d.appendChild(o);
    }
    if (r.t) {
      const t = document.createElement('div');
      t.className = 'tx' + (b.big ? ' big' : '');
      t.textContent = r.t;
      t.style.left = (hasDot || b.rows.every(q => !q.line) ? 32 : 51) + 'px';
      t.style.top = (r.y - 1) + 'px';
      d.appendChild(t);
    }
  });
  document.body.appendChild(d);
});

// ---- time axis labels ----
function timeAxis(col, top, dateTop) {
  const sc = (col.right - col.left) / (col.xMax - col.xMin);
  const s = document.createElement('div');
  s.className = 'hl';
  s.style.left = (col.left - 12) + 'px'; s.style.top = top + 'px';
  s.innerHTML = '0<sup>h</sup>0<sup>m</sup>0<sup>s</sup>';
  document.body.appendChild(s);
  hourLabels.forEach((t, i) => {
    const e = document.createElement('div');
    e.className = 'hl';
    e.style.left = (col.left + (i + 1 - col.xMin) * sc) + 'px';
    e.style.top = top + 'px';
    e.style.transform = 'translateX(-50%)';
    e.innerHTML = t + '<sup>h</sup>';
    document.body.appendChild(e);
  });
  const d = document.createElement('div');
  d.className = 'date';
  d.style.left = (col.left - 48) + 'px'; d.style.top = dateTop + 'px';
  d.textContent = '5/7/2026';
  document.body.appendChild(d);
}
timeAxis(L, 1010, 1034);
timeAxis(R, 1020, 1044);

[[36, 685, '6'], [939, 676, '6'], [939, 591, '5']].forEach(m => {
  const e = document.createElement('div');
  e.className = 'mult';
  e.style.left = m[0] + 'px'; e.style.top = m[1] + 'px';
  e.innerHTML = 'x10<sup>' + m[2] + '</sup>';
  document.body.appendChild(e);
});
</script>
</body>
</html>
